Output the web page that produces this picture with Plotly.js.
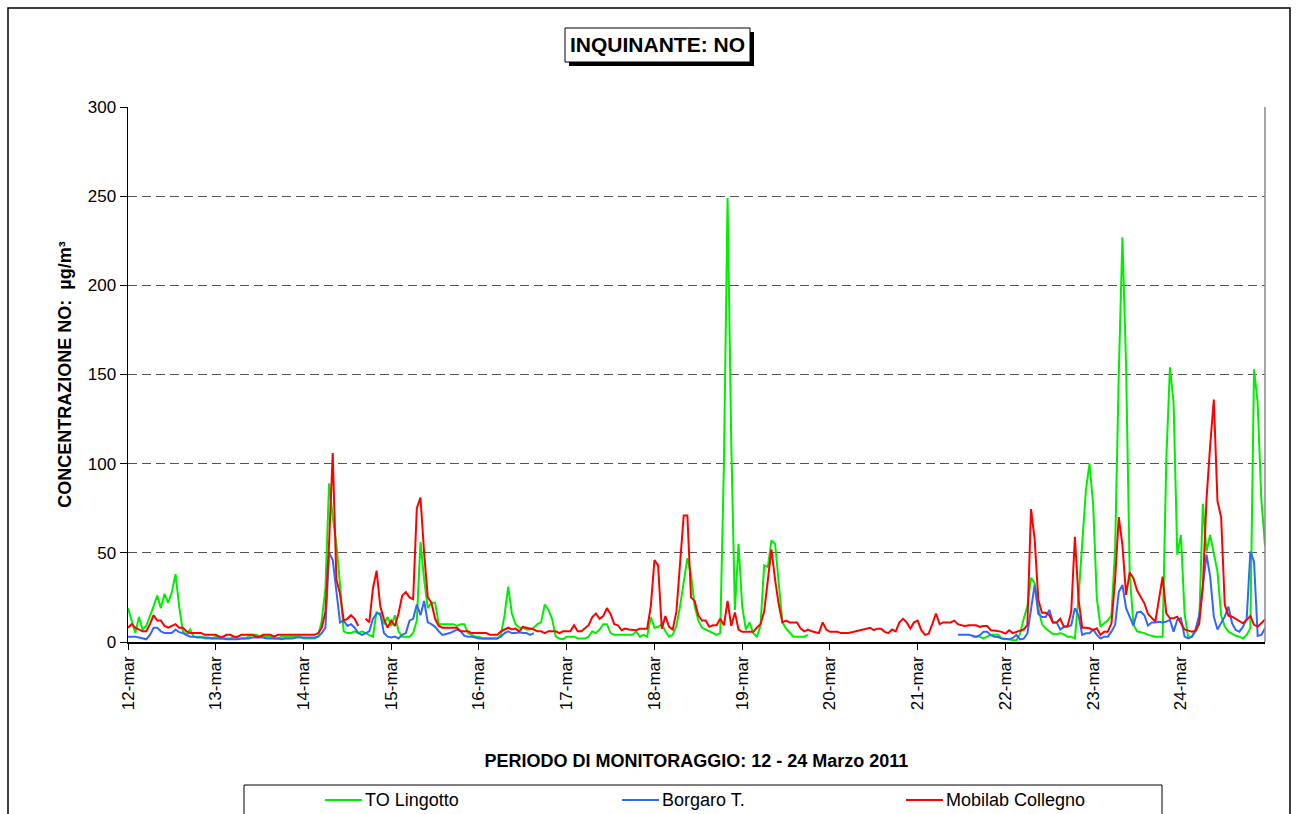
<!DOCTYPE html>
<html>
<head>
<meta charset="utf-8">
<script src="https://cdn.plot.ly/plotly-3.0.1.min.js"></script>
<style>html,body{margin:0;padding:0;background:#fff;}#chart{width:1297px;height:814px;}</style>
</head>
<body>
<div id="chart"></div>
<script>
// ---- DATA (hourly values, 12 - 24 March 2011, µg/m³) ----
const startDay = 12;
const dayCount = 13;
const tickLabels = ['12-mar','13-mar','14-mar','15-mar','16-mar','17-mar','18-mar','19-mar','20-mar','21-mar','22-mar','23-mar','24-mar'];
const seriesNames = ['TO Lingotto','Borgaro T.','Mobilab Collegno'];
const N = null;

const lingotto = [
  19,12,5,14,7,9,14,20,26,19,27,22,28,38,20,6,4,7,3,3,3,2,2,2,            // 12
  3,2,2,2,2,3,2,2,2,3,4,4,3,3,3,3,2,2,3,3,3,3,3,3,                       // 13
  2,2,2,2,3,12,30,89,70,55,32,6,5,5,6,5,6,5,4,3,17,15,10,14,             // 14
  9,15,6,3,3,3,5,12,56,35,19,22,22,10,10,10,10,10,9,10,10,5,4,3,         // 15
  3,2,2,2,2,2,4,15,31,16,10,8,8,7,7,8,10,11,21,18,13,3,2,1.5,            // 16
  3,3,3,2,2,2,3,6,5,7,10,10,5,4,4,4,4,4,4,6,3,4,3,14,                    // 17
  8,8.5,10,6,3,4,9,20,35,47,38,20,12,8,7,6,5,4,5,100,249,113,18,55,      // 18
  20,7,11,5,3,9,43,42,57,55,33,11,7.5,5,3,3,3,3,4,N,N,N,N,N,             // 19
  N,N,N,N,N,N,N,N,N,N,N,N,N,N,N,N,N,N,N,N,N,N,N,N,                       // 20
  N,N,N,N,N,N,N,N,N,N,N,N,N,N,N,3,3,3,2,3,4,4,4,2,                       // 21
  1.5,1.5,1,1,4.5,13,20,36,33,19,10,7.5,6,4.5,4.3,5,4.3,3,3,2,25,55,85,100, // 22
  77,24.5,8.6,10.5,12,15,52,150,227,155,38,10,6,5.5,5,4,3.5,3,3,3,102,154,134,49, // 23
  60,16,2.6,3,5.8,10,77.5,50.7,60,50,39.5,15,8.6,5.8,4.5,3.5,3,2,4,7.7,153,134,80,54 // 24
];

const borgaro = [
  3,3,3,2.5,2,1.5,4,8,8,6,5,5,5,7,5.5,5,4,3,3,2.5,2.5,2.5,2.5,2,          // 12
  2,2,2,1.5,1.5,1.5,1.5,2,2,2,2.5,2.5,2.5,2.5,2,2,2,2,1.5,2,2,2,2.5,2.5,  // 13
  2.5,2.5,2.5,2.5,3,5,8,50,46,28,11,12,9,10,8,5,4,5,6,13,16,16,5,3,      // 14
  2.5,3,2,4,5,12,13,21,15,23,11,10,8.5,6,4,4.5,5,6,7,6,3.4,3,3,2.5,      // 15
  2,2,2,2,2,2,3,5,6,5,5,5.5,5,5,4,5,N,N,N,N,N,N,N,N,                     // 16
  N,N,N,N,N,N,N,N,N,N,N,N,N,N,N,N,N,N,N,N,N,N,N,N,                       // 17
  N,N,N,N,N,N,N,N,N,N,N,N,N,N,N,N,N,N,N,N,N,N,N,N,                       // 18
  N,N,N,N,N,N,N,N,N,N,N,N,N,N,N,N,N,N,N,N,N,N,N,N,                       // 19
  N,N,N,N,N,N,N,N,N,N,N,N,N,N,N,N,N,N,N,N,N,N,N,N,                       // 20
  N,N,N,N,N,N,N,N,N,N,N,4,4,4,4,3.5,3,3.8,5.7,5.7,3.8,3,2.8,1.9,         // 21
  1.9,1.5,2.3,4,1.5,1.9,4.7,19,32,15.7,14,14,18,11,11,7,8.5,8.5,9.4,19,15,4,4.9,4.9, // 22
  7,4,2,3,3,5.8,9.6,28,32,19,14.2,9.2,16.5,17,15,9.2,10.9,10.9,11.4,10.9,11.4,12.4,5.8,12.4, // 23
  13.3,3,2,3,7,15,31,49,36.7,14.2,7,10.5,14.2,19.8,10.5,6.7,5.8,8.6,13.3,50.7,45,3.4,4,7.7 // 24
];

const collegno = [
  8,10,8,7,6,6,10,15,12,12,9,8,9,10,8,8,6,5,5,5,5,4,4,4,                 // 12
  4,3,3,4,4,3,3,4,4,4,4,3,3,4,4,4,3,4,4,4,4,4,4,4,                       // 13
  4,4,4,4,5,8,17,55,106,35,27,12,13,15,13,9,N,13,11,30,40,20,13,8,       // 14
  12,9,16,26,28,25,24,75,81,50,25,22,13,9,8,8,8,8,8,6,6,6,5,5,           // 15
  5,5,5,4,4,4,6,7,8,7,7.5,6,8.5,8,7.5,7,6,6,5,6,6,6,5,6,                 // 16
  6,6,9.4,6,6,7.5,9.4,14,16,13,14.5,19,15.7,10,9.4,6.6,7.5,7,7,6.6,7.5,7.5,7.5,20, // 17
  46,43,7.5,14.5,8.5,7,17,44,71,71,25,23,15,12,12,8.5,9.4,9.4,13,9.4,23,9,16.6,7, // 18
  5.7,5.7,5.7,5.7,8,10,17,33,52,35,21,11,12,11,11,11,7.5,6,7,6,5.5,5,11,7, // 19
  5.7,5.7,5.7,5,5,5,5.5,6,6.5,7,7.5,8,6.6,7.5,7.5,5.7,5,7,6,11,13,11,7.5,11, // 20
  12,6.6,4,4.7,10,16,10,11,11,11,12,10,9.4,9,9.4,9.4,9.4,8.5,9,9,6.6,6.5,6,5.7, // 21
  4.7,6.6,5,5.7,6.6,7,9.4,74.5,57.5,23.6,16.4,16.4,15,11,11,13,8.5,9,17,59,24,8,8,7.7, // 22
  6.7,7.7,4,5.8,5.8,10.5,35,70,54.5,26.4,39,35.8,29,25.5,21.7,15.7,13.3,11.4,24,36.7,16,13.3,13.3,14.2, // 23
  10.5,7,6.4,5.8,6.4,10.5,31,80,110,136,79,70,20.8,14.8,14.2,13,11.4,10.5,12.4,14.6,9.6,8.6,10.5,12.7 // 24
];

// ---- hourly time stamps (category index -> date) ----
function pad(n){return (n<10?'0':'')+n;}
const times = [];
for (let d = 0; d < dayCount; d++) {
  for (let h = 0; h < 24; h++) times.push('2011-03-' + pad(startDay + d) + ' ' + pad(h) + ':00');
}
const tickVals = tickLabels.map((t, i) => '2011-03-' + pad(startDay + i) + ' 00:00');

// ---- layout helpers (pixel -> paper coords) ----
const W = 1297, H = 814;
const M = {l:128, r:32, t:107, b:172};
const PW = W - M.l - M.r, PH = H - M.t - M.b;
const px = x => (x - M.l) / PW;
const py = y => (H - M.b - y) / PH;

const FONT = 'Liberation Sans, Arial, sans-serif';
const colors = ['#00EE00', '#3366FF', '#FF0000'];
const values = [lingotto, borgaro, collegno];

const traces = values.map((v, i) => ({
  x: times, y: v, name: seriesNames[i], type: 'scatter', mode: 'lines',
  line: {color: colors[i], width: 2}, connectgaps: false, showlegend: false
}));

// legend (drawn as layout decoration, below the axis title)
const legendKeyX = [325, 622, 906];
const legendY = 800;
const legendShapes = colors.map((c, i) => ({
  type: 'line', xref: 'paper', yref: 'paper',
  x0: px(legendKeyX[i]), x1: px(legendKeyX[i] + 37), y0: py(legendY), y1: py(legendY),
  line: {color: c, width: 2}
}));
const legendTexts = seriesNames.map((n, i) => ({
  text: n, xref: 'paper', yref: 'paper', x: px(legendKeyX[i] + 38), y: py(legendY),
  xanchor: 'left', yanchor: 'middle', showarrow: false,
  font: {family: FONT, size: 18, color: '#000'}
}));

const layout = {
  width: W, height: H,
  margin: M,
  paper_bgcolor: '#ffffff', plot_bgcolor: '#ffffff',
  font: {family: FONT, size: 17, color: '#000'},
  showlegend: false,
  xaxis: {
    type: 'date', range: [times[0], times[times.length - 1]],
    tickmode: 'array', tickvals: tickVals, ticktext: tickLabels, tickangle: -90,
    tickfont: {family: FONT, size: 17, color: '#000'},
    showline: true, linecolor: '#000', linewidth: 1.5,
    ticks: 'outside', ticklen: 6, tickcolor: '#000',
    showgrid: false, zeroline: false, automargin: false,
    title: {text: 'PERIODO DI MONITORAGGIO: 12 - 24 Marzo 2011', standoff: 45,
            font: {family: FONT, size: 18, color: '#000', weight: 'bold'}}
  },
  yaxis: {
    range: [0, 300], tick0: 0, dtick: 50,
    tickfont: {family: FONT, size: 17, color: '#000'},
    showline: true, linecolor: '#000', linewidth: 1.5,
    ticks: 'outside', ticklen: 7, tickcolor: '#000',
    showgrid: true, gridcolor: '#555', gridwidth: 1, griddash: '9px,5px',
    zeroline: false, automargin: false,
    title: {text: 'CONCENTRAZIONE NO:\u00a0 µg/m³', standoff: 11,
            font: {family: FONT, size: 18, color: '#000', weight: 'bold'}}
  },
  shapes: [
    // outer chart frame
    {type: 'rect', xref: 'paper', yref: 'paper', x0: px(8), x1: px(1290), y0: py(830), y1: py(8),
     line: {color: '#000', width: 1.5}, fillcolor: 'rgba(0,0,0,0)', layer: 'below'},
    // right border of plot area
    {type: 'line', xref: 'paper', yref: 'paper', x0: 1, x1: 1, y0: 0, y1: 1,
     line: {color: '#888', width: 1.5}, layer: 'above'},
    // title box shadow + box
    {type: 'rect', xref: 'paper', yref: 'paper', x0: px(569), x1: px(754), y0: py(66), y1: py(32),
     line: {width: 0}, fillcolor: '#000', layer: 'below'},
    {type: 'rect', xref: 'paper', yref: 'paper', x0: px(565), x1: px(750), y0: py(62), y1: py(28),
     line: {color: '#000', width: 1}, fillcolor: '#fff', layer: 'below'},
    // legend box
    {type: 'rect', xref: 'paper', yref: 'paper', x0: px(244), x1: px(1162), y0: py(830), y1: py(785),
     line: {color: '#000', width: 1}, fillcolor: '#fff', layer: 'below'}
  ].concat(legendShapes),
  annotations: [
    {text: 'INQUINANTE: NO', xref: 'paper', yref: 'paper', x: px(657.5), y: py(45),
     xanchor: 'center', yanchor: 'middle', showarrow: false,
     font: {family: FONT, size: 21, color: '#000', weight: 'bold'}}
  ].concat(legendTexts)
};

Plotly.newPlot('chart', traces, layout, {staticPlot: true, displayModeBar: false});
</script>
</body>
</html>
